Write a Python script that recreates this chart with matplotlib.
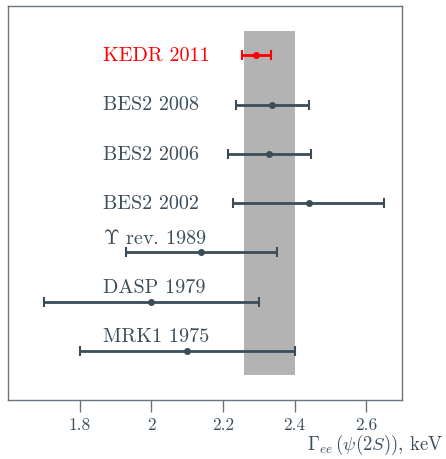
import matplotlib
matplotlib.use("Agg")
import matplotlib.pyplot as plt
from matplotlib.ticker import FuncFormatter

# measurements of Gamma_ee(psi(2S)), keV
labels = ["KEDR 2011", "BES2 2008", "BES2 2006", "BES2 2002",
          r"$\Upsilon$ rev. 1989", "DASP 1979", "MRK1 1975"]
values = [2.293, 2.338, 2.330, 2.440, 2.140, 2.000, 2.100]
errors = [0.041, 0.102, 0.116, 0.211, 0.210, 0.300, 0.300]
label_above = [False, False, False, False, True, True, True]
band_lo, band_hi = 2.26, 2.40

plt.rcParams['font.family'] = 'serif'
plt.rcParams['font.serif'] = ['cmr10']
plt.rcParams['mathtext.fontset'] = 'cm'
plt.rcParams['axes.unicode_minus'] = False

DARK = '#3b4d59'
FRAME = '#66757f'

fig = plt.figure(figsize=(4.46, 4.60), dpi=100)
ax = fig.add_axes([8 / 446, 59 / 460, 394 / 446, 394 / 460])

n = len(labels)
ypos = list(range(n, 0, -1))

ax.axvspan(band_lo, band_hi, ymin=0.5 / 8, ymax=7.5 / 8, color='#b3b3b3', lw=0, zorder=1)

for i in range(n):
    col = 'red' if i == 0 else DARK
    ax.errorbar(values[i], ypos[i], xerr=errors[i], fmt='o', color=col, ms=4,
                elinewidth=2, capsize=3.5, capthick=1.5, zorder=3)
    ty = ypos[i] + 0.3 if label_above[i] else ypos[i]
    ax.text(1.864, ty, labels[i], color=col, fontsize=14.5, va='center', ha='left')

ax.set_xlim(1.6, 2.7)
ax.set_ylim(0, 8)
ax.set_xticks([1.8, 2.0, 2.2, 2.4, 2.6])
ax.xaxis.set_major_formatter(FuncFormatter(lambda v, p: '%g' % v))
ax.set_yticks([])
ax.tick_params(axis='x', direction='out', length=8.5, width=1, color=FRAME,
               labelcolor=DARK, labelsize=12.5, pad=3.5)
for s in ax.spines.values():
    s.set_color(FRAME)
    s.set_linewidth(1)

fig.text(443 / 446, 3 / 460, r'$\Gamma_{ee}\,(\psi(2S))$, keV', ha='right', va='bottom',
         fontsize=13.5, color=DARK)

fig.savefig('out.png', dpi=100)
